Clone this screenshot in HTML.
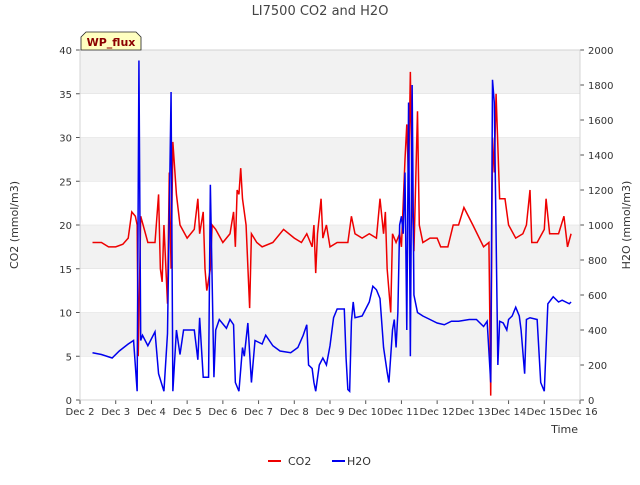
<!DOCTYPE html>
<html><head><meta charset="utf-8"><style>
body{margin:0;background:#fff;font-family:"Liberation Sans","DejaVu Sans",sans-serif}
svg text{font-family:"DejaVu Sans","Liberation Sans",sans-serif}
</style></head><body>
<svg id="chart" width="640" height="480" xmlns="http://www.w3.org/2000/svg">
<text x="320" y="15" text-anchor="middle" font-size="13" fill="#444">LI7500 CO2 and H2O</text>
<g id="bands"></g>
<g id="grid"></g>
<g id="series"></g>
<g id="axes"></g>
<g>
<path d="M81,50 L81,37 L86,32 L136,32 L141,37 L141,50 Z" fill="#ffffc0" stroke="#222" stroke-width="0.8"/>
<text x="111" y="46" text-anchor="middle" font-size="11" font-weight="bold" fill="#8b0000">WP_flux</text>
</g>
<text transform="translate(18,225) rotate(-90)" text-anchor="middle" font-size="11" fill="#333">CO2 (mmol/m3)</text>
<text transform="translate(630,225) rotate(-90)" text-anchor="middle" font-size="11" fill="#333">H2O (mmol/m3)</text>
<text x="578" y="433" text-anchor="end" font-size="11" fill="#333">Time</text>
<g>
<line x1="268" y1="461" x2="281" y2="461" stroke="#e00" stroke-width="2"/>
<text x="288" y="465" font-size="11" fill="#333">CO2</text>
<line x1="332" y1="461" x2="345" y2="461" stroke="#00e" stroke-width="2"/>
<text x="347" y="465" font-size="11" fill="#333">H2O</text>
</g>
</svg>
<script>
const xTickLabels=["Dec 2","Dec 3","Dec 4","Dec 5","Dec 6","Dec 7","Dec 8","Dec 9","Dec 10","Dec 11","Dec 12","Dec 13","Dec 14","Dec 15","Dec 16"];
const leftTicks=[0,5,10,15,20,25,30,35,40];
const rightTicks=[0,200,400,600,800,1000,1200,1400,1600,1800,2000];
const co2Days=[0.35,0.6,0.8,1.0,1.2,1.35,1.45,1.55,1.6,1.63,1.7,1.9,2.1,2.2,2.25,2.3,2.35,2.45,2.5,2.55,2.6,2.7,2.8,3.0,3.2,3.3,3.35,3.45,3.5,3.55,3.65,3.7,3.8,4.0,4.2,4.3,4.35,4.4,4.45,4.5,4.55,4.65,4.75,4.8,4.95,5.1,5.4,5.7,6.0,6.2,6.35,6.5,6.55,6.6,6.65,6.75,6.8,6.9,7.0,7.2,7.5,7.6,7.7,7.9,8.1,8.3,8.4,8.5,8.55,8.6,8.7,8.75,8.85,8.95,9.0,9.1,9.15,9.2,9.25,9.3,9.35,9.45,9.5,9.6,9.8,10.0,10.1,10.3,10.45,10.6,10.75,11.0,11.3,11.45,11.5,11.55,11.6,11.65,11.75,11.9,12.0,12.2,12.4,12.5,12.6,12.65,12.8,13.0,13.05,13.15,13.4,13.55,13.65,13.75];
const co2Values=[18,18,17.5,17.5,17.8,18.5,21.5,21,20,5,21,18,18,23.5,15,13.5,20,11,26,15,29.5,23.5,20,18.5,19.5,23,19,21.5,15,12.5,15,20,19.5,18,19,21.5,17.5,24,23.5,26.5,23,20,10.5,19,18,17.5,18,19.5,18.5,18,19,17.5,20,14.5,19,23,18.5,20,17.5,18,18,21,19,18.5,19,18.5,23,19,21.5,15,10,19,18,19,17.5,27.5,31.5,25,37.5,23,17,33,20,18,18.5,18.5,17.5,17.5,20,20,22,20,17.5,18,0.5,30,26,35,23,23,20,18.5,19,20,24,18,18,19.5,23,19,19,21,17.5,19];
const h2oDays=[0.35,0.6,0.9,1.1,1.35,1.5,1.6,1.65,1.7,1.75,1.9,2.1,2.2,2.35,2.45,2.55,2.6,2.7,2.8,2.9,3.2,3.3,3.35,3.45,3.6,3.65,3.75,3.8,3.9,4.1,4.2,4.3,4.35,4.45,4.55,4.6,4.7,4.8,4.9,5.1,5.2,5.4,5.6,5.9,6.1,6.25,6.35,6.4,6.5,6.55,6.6,6.7,6.8,6.9,7.0,7.1,7.2,7.4,7.45,7.5,7.55,7.6,7.65,7.7,7.9,8.1,8.2,8.3,8.4,8.5,8.6,8.65,8.75,8.8,8.85,8.9,8.95,9.0,9.05,9.1,9.15,9.2,9.25,9.3,9.35,9.45,9.6,9.8,10.0,10.2,10.4,10.6,10.9,11.1,11.3,11.4,11.5,11.55,11.6,11.7,11.75,11.85,11.95,12.0,12.1,12.2,12.3,12.35,12.45,12.5,12.6,12.8,12.9,13.0,13.05,13.1,13.25,13.4,13.5,13.7,13.75];
const h2oValues=[270,260,240,280,320,340,50,1940,340,370,310,390,150,50,380,1760,50,400,260,400,400,230,470,130,130,1230,130,400,460,410,460,430,100,50,300,250,440,100,340,320,370,310,280,270,300,370,430,200,180,100,50,200,240,200,310,470,520,520,240,60,50,450,560,470,480,560,650,630,580,300,160,100,400,460,300,500,1000,1050,950,1300,400,1700,250,1800,600,500,480,460,440,430,450,450,460,460,420,450,100,1830,1700,200,450,440,400,460,480,530,480,400,150,460,470,460,100,50,300,550,590,560,570,550,560];
const L=80,R=580,T=50,B=400,NS="http://www.w3.org/2000/svg";
const xs=d=>L+d*(R-L)/14, yl=v=>B-v*(B-T)/40, yr=v=>B-v*(B-T)/2000;
function mk(tag,attrs,parent){const e=document.createElementNS(NS,tag);for(const k in attrs)e.setAttribute(k,attrs[k]);document.getElementById(parent).appendChild(e);return e;}
[[35,40],[25,30],[15,20],[5,10]].forEach(b=>{const r=mk('rect',{x:L,y:yl(b[1]),width:R-L,height:yl(b[0])-yl(b[1]),fill:'#f2f2f2'},'bands');

});
leftTicks.forEach(v=>{mk('line',{x1:L,x2:R,y1:yl(v),y2:yl(v),stroke:'#ddd','stroke-width':0.6},'grid');
mk('line',{x1:L-4,x2:L,y1:yl(v),y2:yl(v),stroke:'#555'},'axes');
const t=mk('text',{x:L-8,y:yl(v)+4,'text-anchor':'end','font-size':10,fill:'#333'},'axes');t.textContent=v;

});
rightTicks.forEach(v=>{mk('line',{x1:R,x2:R+4,y1:yr(v),y2:yr(v),stroke:'#555'},'axes');
const t=mk('text',{x:R+8,y:yr(v)+4,'font-size':10,fill:'#333'},'axes');t.textContent=v;

});
xTickLabels.forEach((s,i)=>{mk('line',{x1:xs(i),x2:xs(i),y1:B,y2:B+4,stroke:'#555'},'axes');
const t=mk('text',{x:xs(i),y:B+15,'text-anchor':'middle','font-size':10,fill:'#333'},'axes');t.textContent=s;

});
const frame=mk('rect',{x:L,y:T,width:R-L,height:B-T,fill:'none',stroke:'#ccc','stroke-width':0.8},'axes');


const co2=mk('polyline',{points:co2Days.map((d,i)=>xs(d)+','+yl(co2Values[i])).join(' '),fill:'none',stroke:'#e00','stroke-width':1.5},'series');


const h2o=mk('polyline',{points:h2oDays.map((d,i)=>xs(d)+','+yr(h2oValues[i])).join(' '),fill:'none',stroke:'#00e','stroke-width':1.5},'series');


</script>
</body></html>
